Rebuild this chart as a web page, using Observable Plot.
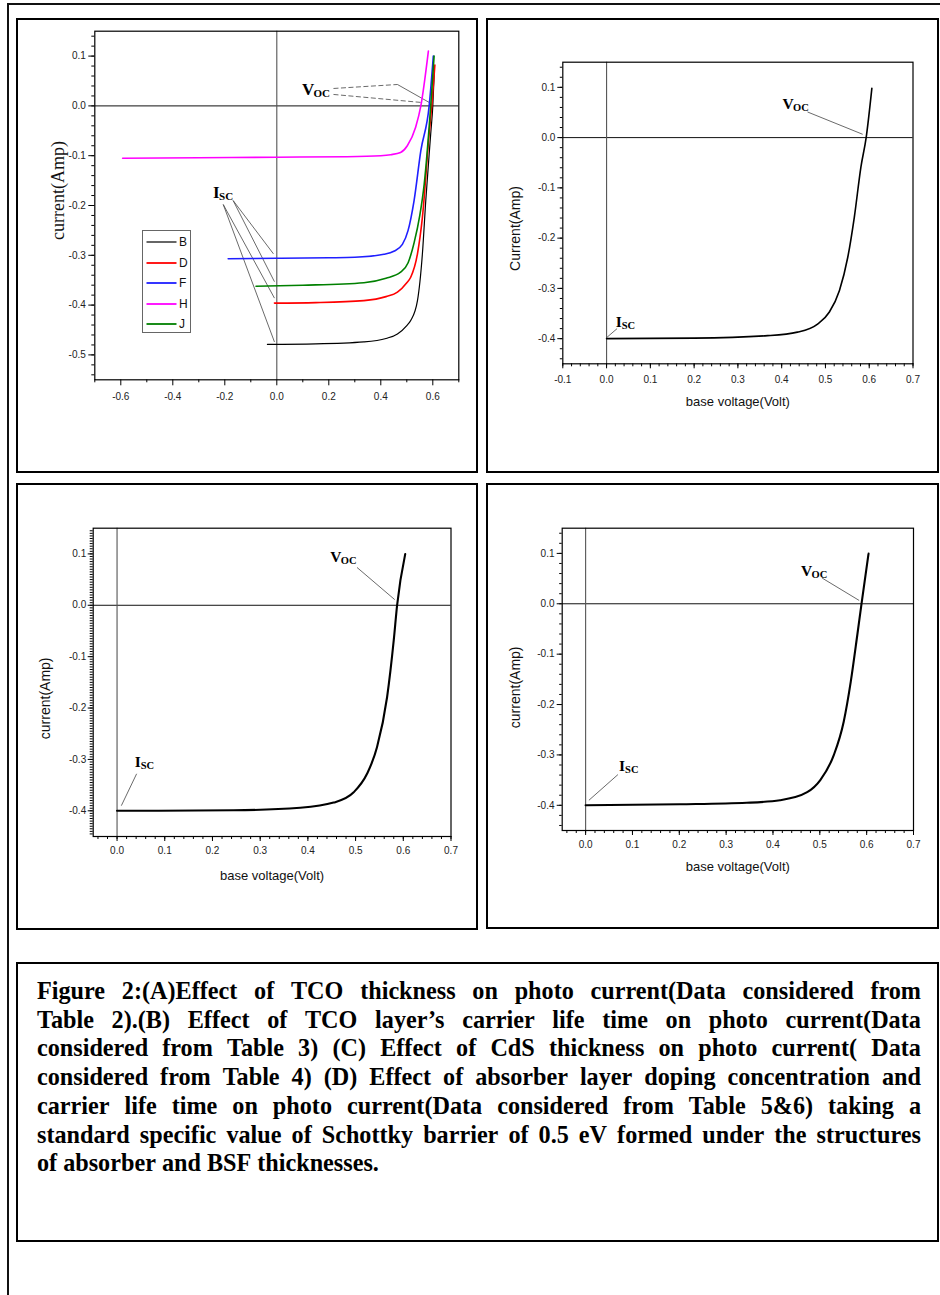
<!DOCTYPE html>
<html><head><meta charset="utf-8">
<script src="https://cdn.jsdelivr.net/npm/d3@7"></script>
<script src="https://cdn.jsdelivr.net/npm/@observablehq/plot@0.6"></script>
<style>
html,body{margin:0;padding:0;background:#fff;}
body{width:940px;height:1295px;position:relative;overflow:hidden;font-family:"Liberation Sans",Arial,sans-serif;}
.box{position:absolute;border:2px solid #000;box-sizing:border-box;}
.outer{position:absolute;left:7px;top:3px;width:960px;height:1320px;border-top:2px solid #111;border-left:2px solid #111;box-sizing:border-box;}
.legend{position:absolute;border:1px solid #666;box-sizing:border-box;background:#fff;}
.legend .row{position:absolute;left:0;height:14px;display:flex;align-items:center;font-size:12px;color:#111;}
.caption{font-family:"Liberation Serif","Times New Roman",serif;font-weight:bold;font-size:24.2px;color:#000;}
.caption .ln{position:absolute;left:19px;right:16px;display:flex;justify-content:space-between;white-space:nowrap;line-height:28px;}
.caption .ln.last{justify-content:flex-start;gap:6px;}
</style></head><body>
<div class="outer"></div>
<script>
// ---------------- DATA ----------------
// Panel A : series B, D, F, H, J  (voltage in Volt, current in Amp)
const seriesNamesA = ["B", "D", "F", "H", "J"];
const seriesColorsA = ["#000000", "#ff0000", "#1f1fff", "#ff00ff", "#008000"];
const aB_v = [-0.036, 0.15, 0.335, 0.42, 0.464, 0.50, 0.515, 0.541, 0.56, 0.573, 0.592, 0.600, 0.606];
const aB_i = [-0.479, -0.478, -0.474, -0.467, -0.458, -0.441, -0.431, -0.391, -0.297, -0.19, -0.056, 0.0, 0.072];
const aD_v = [-0.009, 0.15, 0.335, 0.42, 0.464, 0.50, 0.515, 0.541, 0.56, 0.586, 0.596, 0.608];
const aD_i = [-0.396, -0.395, -0.391, -0.383, -0.374, -0.355, -0.344, -0.297, -0.224, -0.056, 0.0, 0.082];
const aF_v = [-0.187, 0.0, 0.2, 0.3, 0.412, 0.45, 0.483, 0.505, 0.528, 0.554, 0.586, 0.602];
const aF_i = [-0.307, -0.306, -0.305, -0.304, -0.298, -0.292, -0.278, -0.25, -0.19, -0.09, 0.0, 0.10];
const aH_v = [-0.593, -0.3, 0.0, 0.27, 0.40, 0.438, 0.476, 0.502, 0.534, 0.554, 0.583];
const aH_i = [-0.105, -0.104, -0.103, -0.102, -0.100, -0.098, -0.0935, -0.080, -0.043, 0.0, 0.110];
const aJ_v = [-0.08, 0.1, 0.335, 0.42, 0.476, 0.505, 0.528, 0.55, 0.567, 0.592, 0.605];
const aJ_i = [-0.362, -0.360, -0.355, -0.346, -0.334, -0.315, -0.275, -0.22, -0.157, 0.0, 0.10];
// Panel B
const b_v = [0.0, 0.2, 0.368, 0.436, 0.482, 0.509, 0.532, 0.551, 0.566, 0.581, 0.593, 0.606];
const b_i = [-0.400, -0.399, -0.394, -0.387, -0.371, -0.347, -0.304, -0.238, -0.158, -0.0585, 0.0, 0.098];
// Panel C
const c_v = [0.0, 0.244, 0.384, 0.454, 0.496, 0.524, 0.545, 0.566, 0.580, 0.587, 0.604];
const c_i = [-0.400, -0.399, -0.394, -0.384, -0.364, -0.328, -0.276, -0.179, -0.068, 0.0, 0.0995];
// Panel D
const d_v = [0.0, 0.201, 0.344, 0.415, 0.473, 0.501, 0.530, 0.551, 0.566, 0.580, 0.589, 0.604];
const d_i = [-0.400, -0.398, -0.395, -0.390, -0.374, -0.350, -0.300, -0.234, -0.155, -0.062, 0.0, 0.0995];

// Tick values
const ticksA_x = [-0.6, -0.4, -0.2, 0.0, 0.2, 0.4, 0.6];
const ticksA_xMinor = [-0.7, -0.5, -0.3, -0.1, 0.1, 0.3, 0.5, 0.7];
const ticksA_y = [-0.5, -0.4, -0.3, -0.2, -0.1, 0.0, 0.1];
const ticksB_x = [-0.1, 0.0, 0.1, 0.2, 0.3, 0.4, 0.5, 0.6, 0.7];
const ticksCD_x = [0.0, 0.1, 0.2, 0.3, 0.4, 0.5, 0.6, 0.7];
const ticksBCD_y = [-0.4, -0.3, -0.2, -0.1, 0.0, 0.1];

// Axis titles
const yTitleA = "current(Amp)";
const yTitleB = "Current(Amp)";
const yTitleCD = "current(Amp)";
const xTitleBCD = "base voltage(Volt)";

// Annotation anchors (data space): label [x, y]; leader segments [x1, y1, x2, y2]
const annA_voc = [0.097, 0.033];
const annA_vocDashed = [[0.218, 0.035, 0.464, 0.043], [0.218, 0.023, 0.554, 0.007]];
const annA_vocSolid = [[0.464, 0.043, 0.586, 0.007]];
const annA_isc = [-0.245, -0.174];
const annA_iscLeaders = [[-0.168, -0.190, -0.013, -0.297], [-0.168, -0.190, -0.009, -0.353],
                         [-0.206, -0.198, -0.009, -0.386], [-0.206, -0.198, -0.009, -0.474]];
const annB_voc = [0.402, 0.066];
const annB_vocLeader = [[0.459, 0.051, 0.585, 0.0066]];
const annB_isc = [0.021, -0.367];
const annB_iscLeader = [[0.024, -0.380, 0.0, -0.398]];
const annC_voc = [0.447, 0.094];
const annC_vocLeader = [[0.503, 0.0736, 0.582, 0.011]];
const annC_isc = [0.037, -0.306];
const annC_iscLeader = [[0.041, -0.328, 0.009, -0.390]];
const annD_voc = [0.46, 0.064];
const annD_vocLeader = [[0.505, 0.051, 0.584, 0.0066]];
const annD_isc = [0.0714, -0.322];
const annD_iscLeader = [[0.069, -0.339, 0.007, -0.39]];

const captionLines = [
  "Figure 2:(A)Effect of  TCO thickness on photo current(Data considered from",
  "Table 2).(B) Effect of  TCO layer\u2019s carrier life time on photo current(Data",
  "considered from Table 3) (C) Effect of CdS thickness on photo current( Data",
  "considered from Table 4) (D) Effect of  absorber layer doping concentration and",
  "carrier life time on photo current(Data considered from Table 5&6) taking a",
  "standard specific value of Schottky barrier of  0.5 eV  formed under the structures",
  "of absorber and BSF thicknesses."
];

// ---------------- HELPERS ----------------
const fmt = d => d.toFixed(1);
const SERIF = "'Liberation Serif','Times New Roman',serif";
const SANS = "'Liberation Sans',Arial,sans-serif";
const toRows = (vs, is) => vs.map((v, k) => ({v, i: is[k]}));
const segs = arr => arr.map(s => ({x1: s[0], y1: s[1], x2: s[2], y2: s[3]}));
const range = (a, b, s) => d3.range(Math.round(a / s), Math.round(b / s) + 1).map(k => +(k * s).toFixed(4));

function addBox(x0, y0, x1, y1) {
  const d = document.createElement("div");
  d.className = "box";
  Object.assign(d.style, {left: x0 + "px", top: y0 + "px", width: (x1 - x0) + "px", height: (y1 - y0) + "px"});
  document.body.appendChild(d);
  return d;
}

function subLabel(pt, big, small, size, subSize, bigW) {
  return [
    Plot.text([pt], {x: d => d[0], y: d => d[1], text: () => big, textAnchor: "start", lineAnchor: "middle",
      fontFamily: SERIF, fontWeight: "bold", fontSize: size, fill: "#000"}),
    Plot.text([pt], {x: d => d[0], y: d => d[1], text: () => small, textAnchor: "start", lineAnchor: "middle",
      dx: bigW, dy: size * 0.22, fontFamily: SERIF, fontWeight: "bold", fontSize: subSize, fill: "#000"})
  ];
}

function buildPanel(cfg) {
  const [bx0, by0, bx1, by1] = cfg.box;
  addBox(bx0, by0, bx1, by1);
  const left = bx0 + 2, top = by0 + 2, W = bx1 - bx0 - 4, H = by1 - by0 - 4;
  const [fl, ft, fr, fb] = cfg.frame;
  const marks = [];
  marks.push(Plot.ruleY([0], {stroke: "#111", strokeWidth: 1}));
  marks.push(Plot.ruleX([0], {stroke: "#555", strokeWidth: 1.1}));
  // ticks
  marks.push(Plot.axisX(cfg.xMinor, {tickSize: cfg.minorX, fill: "none", label: null, stroke: "#000"}));
  marks.push(Plot.axisX(cfg.xMajor, {tickSize: cfg.majorX, tickPadding: cfg.xPad, tickFormat: fmt, label: null,
    fill: "#222", stroke: "#000", fontSize: 10}));
  marks.push(Plot.axisY(cfg.yMinor, {tickSize: cfg.minorY, fill: "none", label: null, stroke: "#000"}));
  marks.push(Plot.axisY(cfg.yMajor, {tickSize: cfg.majorY, tickPadding: cfg.yPad, tickFormat: fmt, label: null,
    fill: "#222", stroke: "#000", fontSize: 10}));
  // leaders
  for (const L of cfg.leaders) {
    marks.push(Plot.link(segs(L.segs), {x1: "x1", y1: "y1", x2: "x2", y2: "y2", stroke: "#444",
      strokeWidth: 0.8, strokeDasharray: L.dash || null}));
  }
  // curves
  for (const s of cfg.series) {
    marks.push(Plot.line(toRows(s.v, s.i), {x: "v", y: "i", stroke: s.color, strokeWidth: s.width, curve: "monotone-x"}));
  }
  // labels
  for (const lab of cfg.labels) marks.push(...subLabel(lab.pt, lab.big, lab.small, lab.size, lab.subSize, lab.bigW));
  // axis titles
  marks.push(Plot.text([cfg.yTitle], {frameAnchor: "left", rotate: -90, text: d => d, dx: cfg.yTitleDx, dy: cfg.yTitleDy,
    fontFamily: cfg.yTitleFont, fontSize: cfg.yTitleSize, fill: "#111", textAnchor: "middle", lineAnchor: "middle"}));
  if (cfg.xTitle) marks.push(Plot.text([cfg.xTitle], {frameAnchor: "bottom", text: d => d, dy: cfg.xTitleDy,
    fontFamily: SANS, fontSize: 13, fill: "#111", textAnchor: "middle", lineAnchor: "middle"}));
  marks.push(Plot.frame({stroke: "#000", strokeWidth: 1.2}));
  const svg = Plot.plot({
    width: W, height: H,
    marginLeft: fl - left, marginTop: ft - top, marginRight: left + W - fr, marginBottom: top + H - fb,
    x: {domain: cfg.xDomain}, y: {domain: cfg.yDomain},
    style: {background: "transparent", overflow: "visible", fontFamily: SANS, fontSize: "10px", color: "#000"},
    marks
  });
  Object.assign(svg.style, {position: "absolute", left: left + "px", top: top + "px", maxWidth: "none"});
  document.body.appendChild(svg);
}

// ---------------- PANEL A ----------------
const aV = [aB_v, aD_v, aF_v, aH_v, aJ_v], aI = [aB_i, aD_i, aF_i, aH_i, aJ_i];
buildPanel({
  box: [16, 18, 478, 473], frame: [94.3, 30.7, 458.3, 379.3],
  xDomain: [-0.7, 0.7], yDomain: [-0.55, 0.15],
  xMajor: ticksA_x, xMinor: ticksA_xMinor, yMajor: ticksA_y, yMinor: range(-0.54, 0.14, 0.02),
  majorX: 6, minorX: 3, majorY: 6, minorY: 3, xPad: 7, yPad: 3,
  series: seriesNamesA.map((n, k) => ({v: aV[k], i: aI[k], color: seriesColorsA[k], width: n === "B" ? 1.2 : 1.6})),
  leaders: [{segs: annA_vocDashed, dash: "5,2.5"}, {segs: annA_vocSolid}, {segs: annA_iscLeaders}],
  labels: [{pt: annA_voc, big: "V", small: "OC", size: 17, subSize: 11, bigW: 11.5},
           {pt: annA_isc, big: "I", small: "SC", size: 17, subSize: 11, bigW: 6}],
  yTitle: yTitleA, yTitleFont: SERIF, yTitleSize: 18, yTitleDx: -36.3, yTitleDy: -15
});

// legend for panel A
(function () {
  const lg = document.createElement("div");
  lg.className = "legend";
  Object.assign(lg.style, {left: "142px", top: "230px", width: "49px", height: "103px"});
  const rowY = [4, 24.5, 45, 65.5, 86];
  seriesNamesA.forEach((n, k) => {
    const r = document.createElement("div");
    r.className = "row";
    r.style.top = rowY[k] + "px";
    r.innerHTML = `<svg width="34" height="14" style="display:block"><line x1="3.5" x2="33.5" y1="7" y2="7" stroke="${seriesColorsA[k]}" stroke-width="${n === "B" ? 1.2 : 1.8}"/></svg><span style="margin-left:2px">${n}</span>`;
    lg.appendChild(r);
  });
  document.body.appendChild(lg);
})();

// ---------------- PANEL B ----------------
buildPanel({
  box: [486, 18, 939, 473], frame: [562.3, 61.7, 912.5, 363.3],
  xDomain: [-0.1, 0.7], yDomain: [-0.45, 0.15],
  xMajor: ticksB_x, xMinor: range(-0.1, 0.7, 0.02), yMajor: ticksBCD_y, yMinor: range(-0.44, 0.14, 0.02),
  majorX: 5, minorX: 3, majorY: 5, minorY: 2.5, xPad: 7, yPad: 2.5,
  series: [{v: b_v, i: b_i, color: "#000", width: 1.6}],
  leaders: [{segs: annB_vocLeader}, {segs: annB_iscLeader}],
  labels: [{pt: annB_voc, big: "V", small: "OC", size: 15.5, subSize: 10.5, bigW: 10.5},
           {pt: annB_isc, big: "I", small: "SC", size: 15.5, subSize: 10.5, bigW: 6}],
  yTitle: yTitleB, yTitleFont: SANS, yTitleSize: 14, yTitleDx: -47.3, yTitleDy: 15.5,
  xTitle: xTitleBCD, xTitleDy: 38.4
});

// ---------------- PANEL C ----------------
buildPanel({
  box: [16, 483, 478, 930], frame: [92.7, 527.7, 450.5, 836],
  xDomain: [-0.05, 0.7], yDomain: [-0.45, 0.15],
  xMajor: ticksCD_x, xMinor: range(-0.04, 0.7, 0.02), yMajor: ticksBCD_y, yMinor: range(-0.445, 0.145, 0.005),
  majorX: 5, minorX: 3, majorY: 5, minorY: 3, xPad: 5.7, yPad: 2,
  series: [{v: c_v, i: c_i, color: "#000", width: 2.1}],
  leaders: [{segs: annC_vocLeader}, {segs: annC_iscLeader}],
  labels: [{pt: annC_voc, big: "V", small: "OC", size: 15.5, subSize: 10.5, bigW: 10.5},
           {pt: annC_isc, big: "I", small: "SC", size: 15.5, subSize: 10.5, bigW: 6}],
  yTitle: yTitleCD, yTitleFont: SANS, yTitleSize: 14, yTitleDx: -47.7, yTitleDy: 16,
  xTitle: xTitleBCD, xTitleDy: 39
});

// ---------------- PANEL D ----------------
buildPanel({
  box: [486, 483, 939, 929], frame: [561.7, 527.7, 913, 830],
  xDomain: [-0.05, 0.7], yDomain: [-0.45, 0.15],
  xMajor: ticksCD_x, xMinor: range(-0.04, 0.7, 0.02), yMajor: ticksBCD_y, yMinor: range(-0.44, 0.14, 0.02),
  majorX: 5, minorX: 3, majorY: 5, minorY: 2.5, xPad: 5, yPad: 2.7,
  series: [{v: d_v, i: d_i, color: "#000", width: 2.1}],
  leaders: [{segs: annD_vocLeader}, {segs: annD_iscLeader}],
  labels: [{pt: annD_voc, big: "V", small: "OC", size: 15.5, subSize: 10.5, bigW: 10.5},
           {pt: annD_isc, big: "I", small: "SC", size: 15.5, subSize: 10.5, bigW: 6}],
  yTitle: yTitleCD, yTitleFont: SANS, yTitleSize: 14, yTitleDx: -46.7, yTitleDy: 8,
  xTitle: xTitleBCD, xTitleDy: 36.7
});

// ---------------- CAPTION ----------------
(function () {
  const cap = addBox(16, 962, 939, 1242);
  cap.classList.add("caption");
  captionLines.forEach((t, k) => {
    const ln = document.createElement("div");
    ln.className = "ln" + (k === captionLines.length - 1 ? " last" : "");
    ln.style.top = (13 + k * 28.7) + "px";
    t.split(/\s+/).forEach(w => {
      const s = document.createElement("span");
      s.textContent = w;
      ln.appendChild(s);
    });
    cap.appendChild(ln);
  });
})();
</script>
</body></html>
